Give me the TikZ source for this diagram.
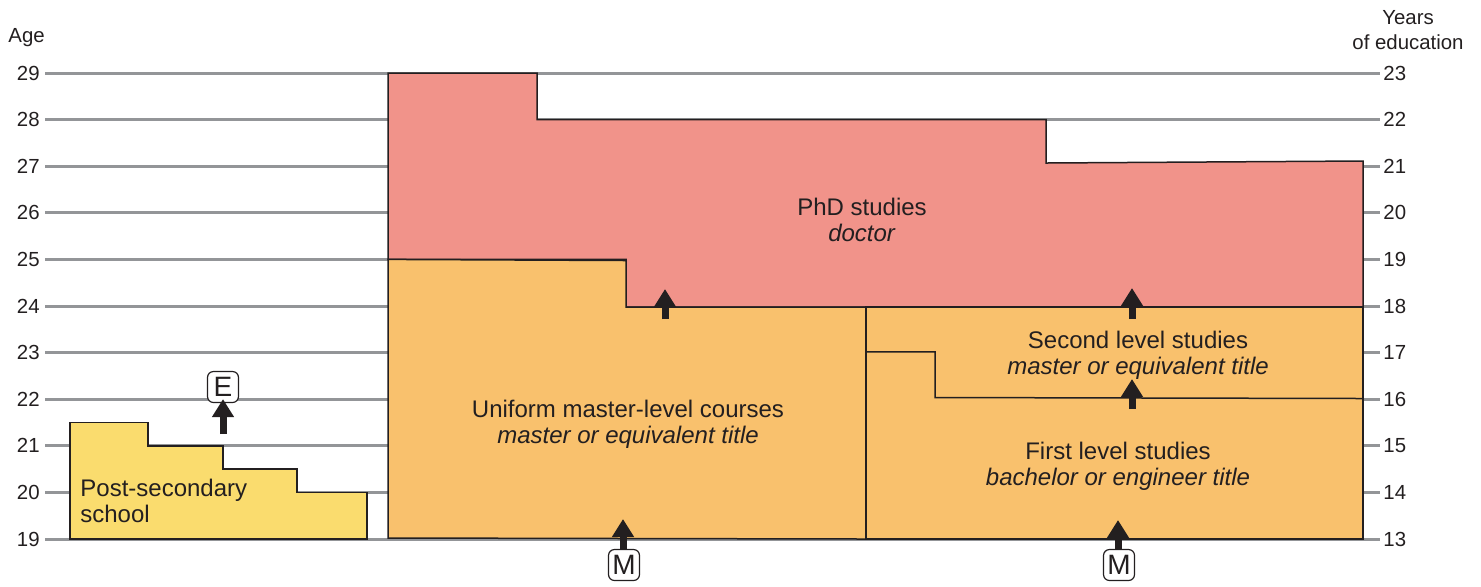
\documentclass[tikz,border=0pt]{standalone}
\usepackage{fontspec}
\setmainfont{Liberation Sans}
\usetikzlibrary{arrows.meta}
\definecolor{gridgray}{HTML}{939598}
\definecolor{phdred}{HTML}{F1938A}
\definecolor{mastorange}{HTML}{F9C16D}
\definecolor{postyellow}{HTML}{FADC6E}
\definecolor{inkdark}{HTML}{231F20}
\tikzset{
  gridline/.style={gridgray, line width=1.5pt},
  block/.style={draw=inkdark, line width=0.75pt, line join=miter},
  axislabel/.style={inner sep=0pt, text=inkdark, font=\fontsize{10.2}{12}\selectfont},
  blocktext/.style={align=center, inner sep=0pt, text=inkdark, font=\fontsize{12}{13}\selectfont},
  letterbox/.style={draw=inkdark, fill=white, rounded corners=3pt, line width=0.6pt, minimum width=15.5pt, minimum height=15.5pt, inner sep=0pt, text=inkdark, font=\fontsize{14}{14}\selectfont},
  uparrow/.style={draw=inkdark, line width=3.5pt, -{Triangle[width=10.5pt,length=9pt]}}
}
\begin{document}
\begin{tikzpicture}[x=0.5pt,y=-0.5pt]
\useasboundingbox (0,0) rectangle (1481,586);
% grid lines and labels
\foreach \a [evaluate=\a as \yy using {73+46.6*(29-\a)}, evaluate=\a as \yr using {int(\a-6)}] in {19,...,29} {
  \draw[gridline] (45,\yy) -- (1380,\yy);
  \node[axislabel, anchor=east] (age\a) at (40,\yy) {\a};
  \node[axislabel, anchor=west] (yr\yr) at (1383,\yy) {\yr};
}
\node[axislabel, anchor=west] (agetitle) at (8,38) {Age};
\node[axislabel, align=center] (yrtitle1) at (1408,18) {Years};
\node[axislabel, align=center] (yrtitle2) at (1408,42) {of education};
% post-secondary
\draw[block, fill=postyellow] (70,539) -- (70,422.6) -- (148,422.6) -- (148,445.8) -- (223,445.8) -- (223,469.1) -- (297,469.1) -- (297,492.4) -- (367,492.4) -- (367,539) -- cycle;
\node[blocktext, anchor=west, align=left] (post) at (80,501) {Post-secondary\\school};
% PhD
\draw[block, fill=phdred] (388,73) -- (537,73) -- (537,119.6) -- (1046,119.6) -- (1046,163) -- (1363,161) -- (1363,307) -- (626,307) -- (626,259.4) -- (388,259.4) -- cycle;
% uniform master
\draw[block, fill=mastorange] (388,259.4) -- (626,260.5) -- (626,307) -- (866,307) -- (866,539) -- (388,538) -- cycle;
% right block
\draw[block, fill=mastorange] (866,307) -- (1363,307) -- (1363,539) -- (866,539) -- cycle;
\draw[block] (866,351.8) -- (935,351.8) -- (935,397.5) -- (1363,398.5);
% texts
\node[blocktext] (phd) at (862,220) {PhD studies\\\textit{doctor}};
\node[blocktext] (uni) at (628,424) {Uniform master-level courses\\\textit{master or equivalent title}};
\node[blocktext] (second) at (1138,355) {Second level studies\\\textit{master or equivalent title}};
\node[blocktext] (first) at (1118,466) {First level studies\\\textit{bachelor or engineer title}};
% letter boxes
\node[letterbox] (E) at (223,387) {E};
\node[letterbox] (M1) at (624,565) {M};
\node[letterbox] (M2) at (1119,565) {M};
% arrow coordinates
\coordinate (eTail) at (223,434);
\coordinate (a1tail) at (665,319);
\coordinate (a1tip) at (665,289);
\coordinate (a2tail) at (1132,319);
\coordinate (a2tip) at (1132,288);
\coordinate (a3tail) at (1132,409);
\coordinate (a3tip) at (1132,379);
\coordinate (m1tip) at (623,519);
\coordinate (m2tip) at (1118,520);
\draw[uparrow] (eTail) -- ([yshift=2pt]E.south);
\draw[uparrow] (a1tail) -- (a1tip);
\draw[uparrow] (a2tail) -- (a2tip);
\draw[uparrow] (a3tail) -- (a3tip);
\draw[uparrow] ([xshift=-0.5pt]M1.north) -- (m1tip);
\draw[uparrow] ([xshift=-0.5pt]M2.north) -- (m2tip);
\end{tikzpicture}
\end{document}
